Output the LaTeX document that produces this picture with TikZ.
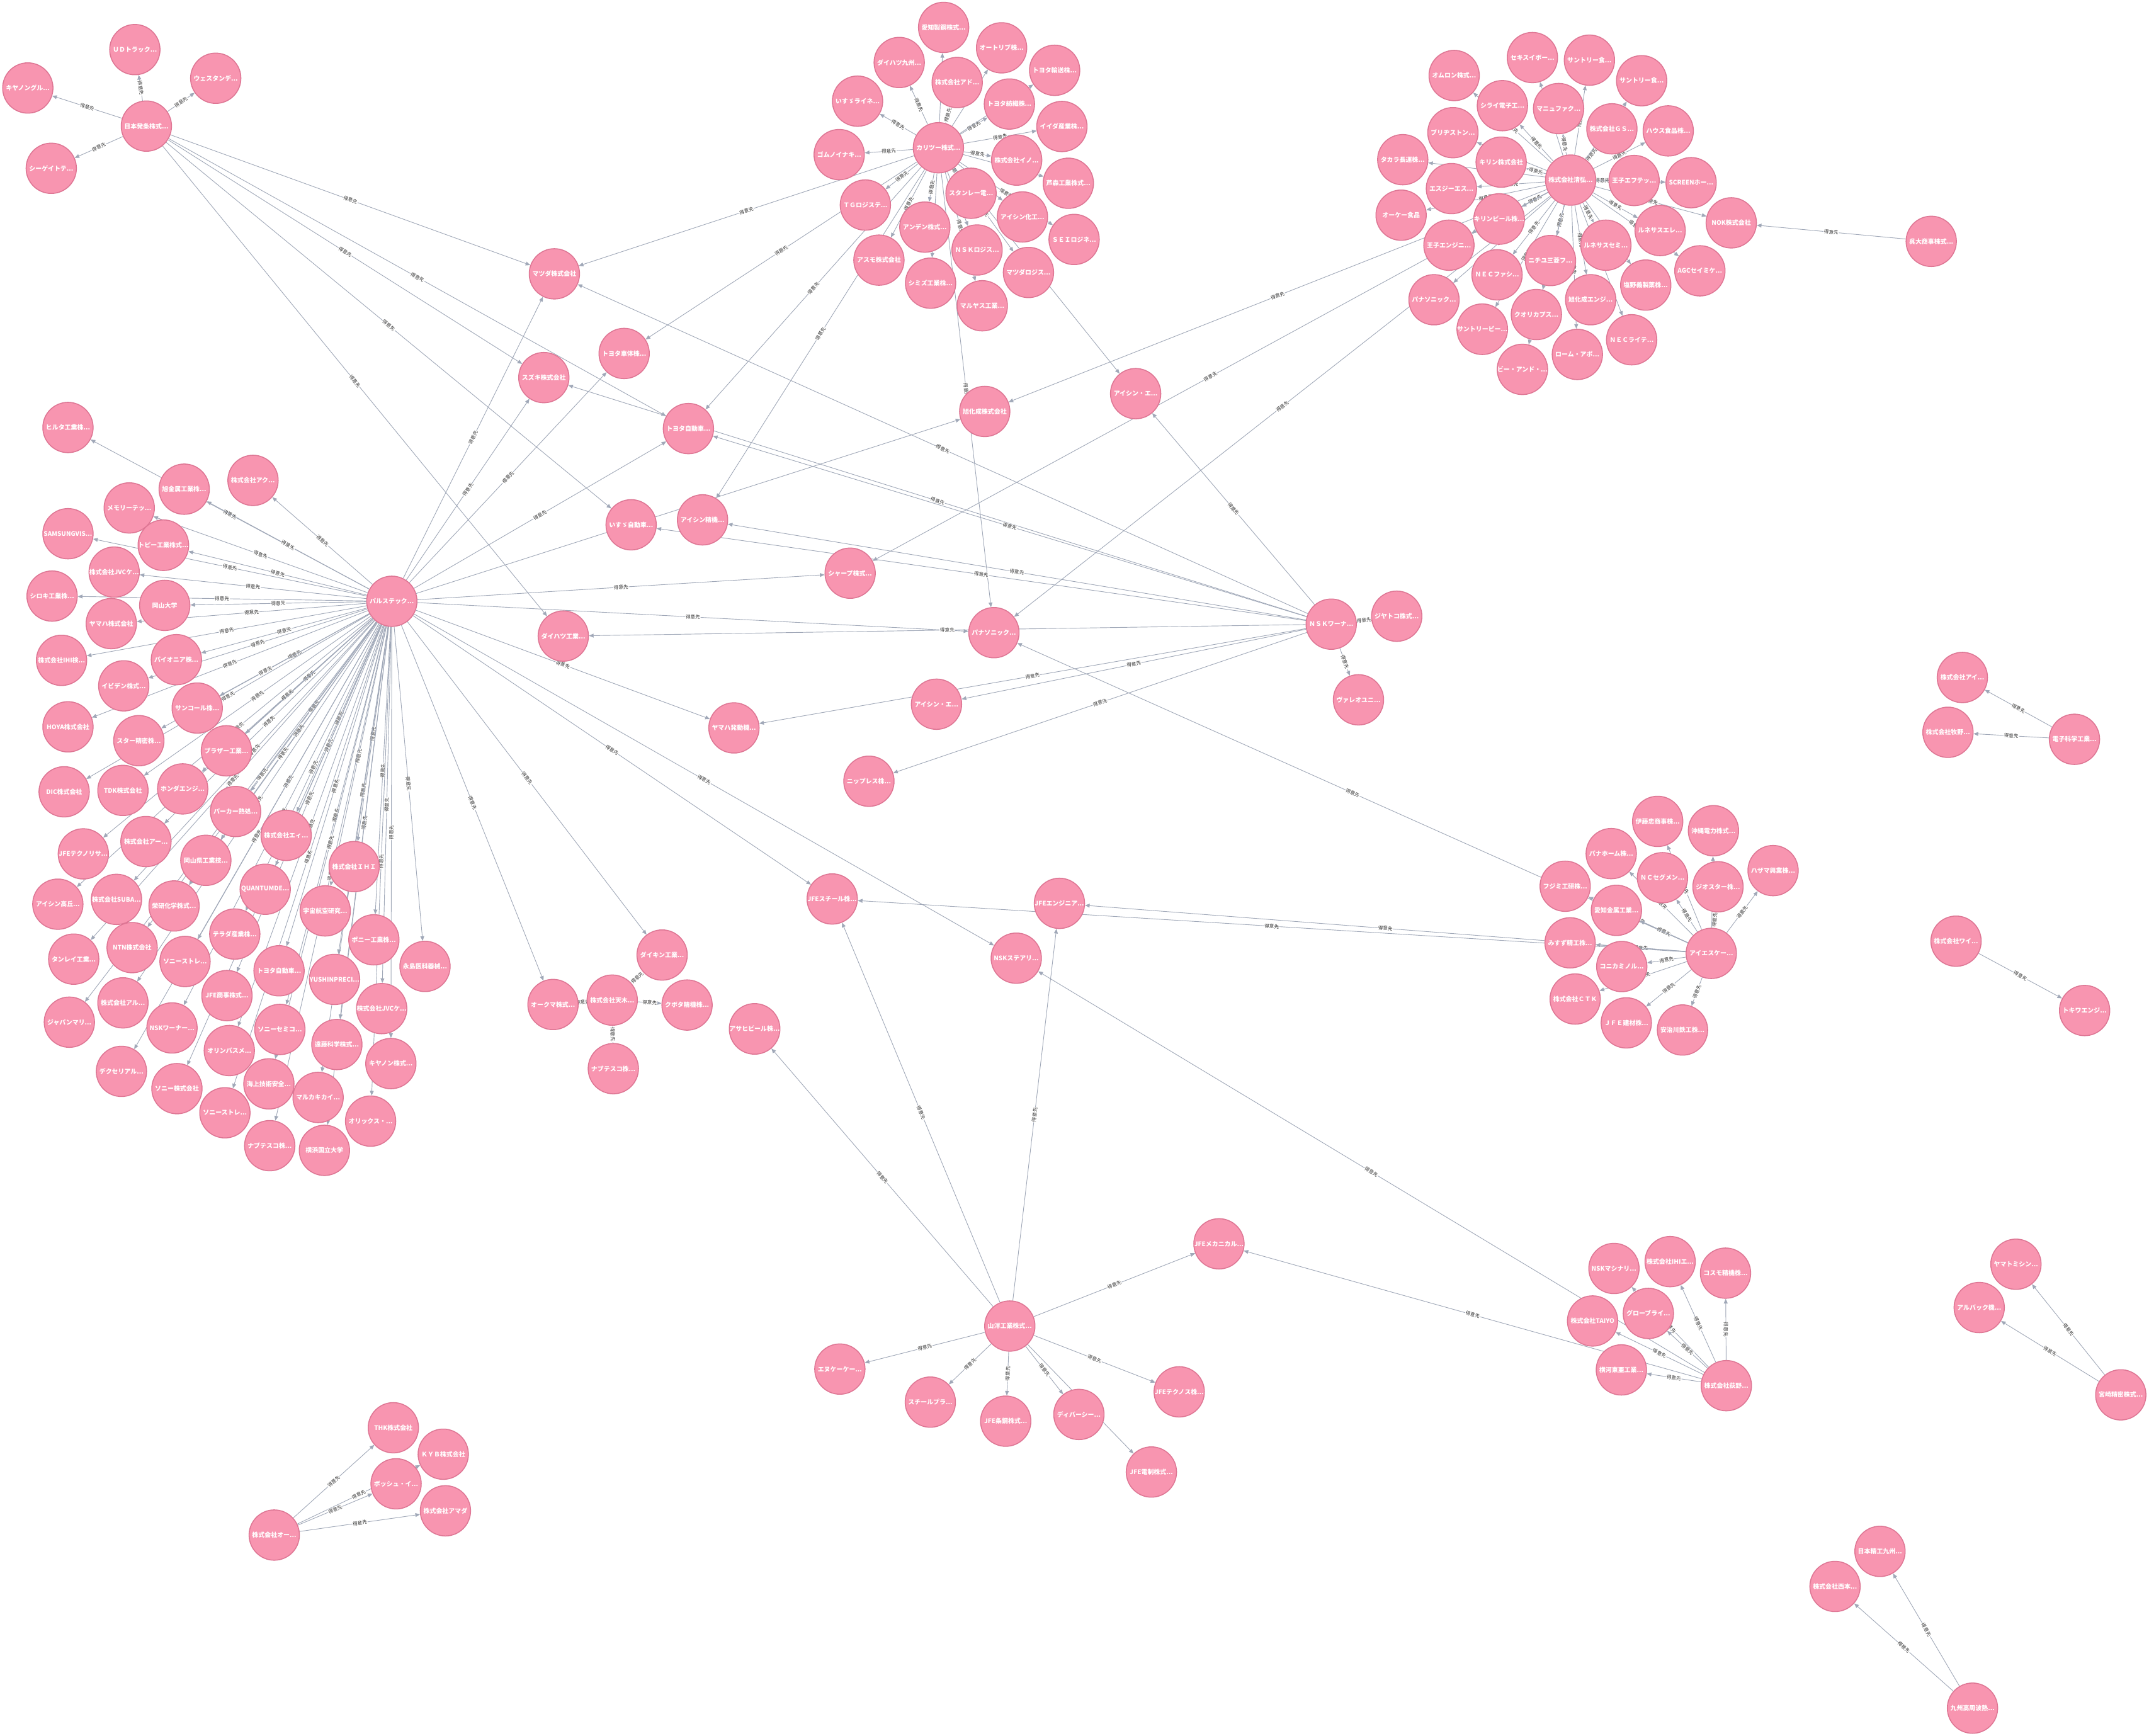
\documentclass[tikz,border=0pt]{standalone}
\usepackage{fontspec}
\setmainfont{Noto Sans CJK JP}
\usetikzlibrary{arrows.meta,backgrounds}
\definecolor{nodefill}{RGB}{248,149,176}
\definecolor{nodeedge}{RGB}{222,118,148}
\definecolor{edgec}{RGB}{160,168,184}
\definecolor{labc}{RGB}{51,51,51}
\tikzset{
 co/.style={circle, fill=nodefill, draw=nodeedge, line width=2pt, minimum size=3.67cm, inner sep=0pt, text=white, font=\fontsize{13}{15}\selectfont\bfseries},
 ed/.style={draw=edgec, line width=1.2pt, -{Triangle[length=0.34cm,width=0.28cm]}},
 lb/.style={sloped, midway, fill=white, inner sep=1pt, text=labc, font=\fontsize{10}{11}\selectfont},
}
\newcommand\mkn[4]{\node[co] (#1) at (#2,#3) {#4};}
\newcommand\mke[2]{\draw[ed] (#1) -- node[lb] {得意先} (#2);}
\newcommand\mku[2]{\draw[ed] (#1) -- (#2);}
\newcommand\fan[2]{\foreach \tg in {#2} {\mke{#1}{\tg}}}
\newcommand\fanu[2]{\foreach \tg in {#2} {\mku{#1}{\tg}}}
\begin{document}
\begin{tikzpicture}[x=0.1cm,y=-0.1cm]
\useasboundingbox (0,0) rectangle (1568,1266.6);
% cluster A
\mkn{a0}{106.8}{92.0}{日本発条株式...}
\mkn{a1}{98.4}{36.2}{ＵＤトラック...}
\mkn{a2}{157.4}{57.1}{ウェスタンデ...}
\mkn{a3}{20.3}{64.2}{キヤノングル...}
\mkn{a4}{37.4}{122.8}{シーゲイトテ...}
% cluster B
\mkn{b0}{684.7}{107.8}{カリツー株式...}
\mkn{b1}{688.5}{20.0}{愛知製鋼株式...}
\mkn{b2}{730.8}{34.9}{オートリブ株...}
\mkn{b3}{656.1}{45.6}{ダイハツ九州...}
\mkn{b4}{769.5}{51.3}{トヨタ輸送株...}
\mkn{b5}{698.4}{60.2}{株式会社アド...}
\mkn{b6}{625.7}{73.8}{いすゞライネ...}
\mkn{b7}{736.5}{75.9}{トヨタ紡織株...}
\mkn{b8}{774.8}{92.3}{イイダ産業株...}
\mkn{b9}{612.3}{112.8}{ゴムノイナキ...}
\mkn{b10}{741.8}{116.8}{株式会社イノ...}
\mkn{b11}{779.5}{133.7}{芦森工業株式...}
\mkn{b12}{708.5}{141.0}{スタンレー電...}
\mkn{b13}{631.4}{149.6}{ＴＧロジステ...}
\mkn{b14}{746.0}{158.3}{アイシン化工...}
\mkn{b15}{674.8}{165.7}{アンデン株式...}
\mkn{b16}{783.7}{174.7}{ＳＥＩロジネ...}
\mkn{b17}{712.9}{182.4}{ＮＳＫロジス...}
\mkn{b18}{641.3}{189.8}{アスモ株式会社}
\mkn{b19}{750.4}{198.8}{マツダロジス...}
\mkn{b20}{679.0}{206.6}{シミズ工業株...}
\mkn{b21}{716.7}{223.1}{マルヤス工業...}
% middle
\mkn{m1}{404.5}{199.8}{マツダ株式会社}
\mkn{m2}{396.8}{275.5}{スズキ株式会社}
\mkn{m3}{455.4}{257.9}{トヨタ車体株...}
\mkn{m4}{502.3}{312.7}{トヨタ自動車...}
\mkn{m5}{460.5}{382.9}{いすゞ自動車...}
\mkn{m6}{512.6}{379.3}{アイシン精機...}
\mkn{m7}{620.3}{418.2}{シャープ株式...}
\mkn{m8}{411.0}{464.1}{ダイハツ工業...}
\mkn{m9}{535.5}{531.1}{ヤマハ発動機...}
\mkn{m10}{683.3}{513.8}{アイシン・エ...}
\mkn{m11}{718.5}{300.2}{旭化成株式会社}
\mkn{m12}{828.6}{287.2}{アイシン・エ...}
\mkn{m13}{725.2}{461.6}{パナソニック...}
\mkn{m14}{971.3}{455.4}{ＮＳＫワーナ...}
\mkn{m15}{1019.1}{449.6}{ジヤトコ株式...}
\mkn{m16}{991.2}{510.6}{ヴァレオユニ...}
\mkn{m17}{634.0}{570.0}{ニップレス株...}
% cluster C
\mkn{c0}{1146.0}{131.4}{株式会社清弘...}
\mkn{c1}{1118.1}{42.0}{セキスイボー...}
\mkn{c2}{1159.7}{43.9}{サントリー食...}
\mkn{c3}{1061.0}{55.1}{オムロン株式...}
\mkn{c4}{1197.8}{58.9}{サントリー食...}
\mkn{c5}{1096.2}{77.1}{シライ電子工...}
\mkn{c6}{1137.2}{79.2}{マニュファク...}
\mkn{c7}{1060.1}{96.8}{ブリヂストン...}
\mkn{c8}{1176.1}{94.0}{株式会社ＧＳ...}
\mkn{c9}{1217.2}{95.5}{ハウス食品株...}
\mkn{c10}{1023.5}{116.5}{タカラ長運株...}
\mkn{c11}{1095.3}{118.3}{キリン株式会社}
\mkn{c12}{1192.3}{131.7}{王子エフテッ...}
\mkn{c13}{1233.9}{133.3}{SCREENホー...}
\mkn{c14}{1059.0}{137.6}{エスジーエス...}
\mkn{c15}{1022.3}{157.0}{オーケー食品}
\mkn{c16}{1093.8}{159.8}{キリンビール株...}
\mkn{c17}{1263.2}{162.6}{NOK株式会社}
\mkn{c18}{1409.1}{176.1}{呉大商事株式...}
\mkn{c19}{1211.3}{168.2}{ルネサスエレ...}
\mkn{c20}{1057.2}{178.9}{王子エンジニ...}
\mkn{c21}{1171.7}{178.9}{ルネサスセミ...}
\mkn{c22}{1131.3}{190.1}{ニチユ三菱フ...}
\mkn{c23}{1092.3}{200.5}{ＮＥＣファシ...}
\mkn{c24}{1240.3}{197.6}{AGCセイミケ...}
\mkn{c25}{1200.8}{208.0}{塩野義製薬株...}
\mkn{c26}{1046.3}{218.7}{パナソニック...}
\mkn{c27}{1160.6}{218.7}{旭化成エンジ...}
\mkn{c28}{1121.0}{229.5}{クオリカプス...}
\mkn{c29}{1081.5}{240.2}{サントリービー...}
\mkn{c30}{1190.5}{247.9}{ＮＥＣライテ...}
\mkn{c31}{1150.9}{258.6}{ローム・アポ...}
\mkn{c32}{1110.8}{269.5}{ビー・アンド・...}
% cluster D
\mkn{d0}{285.9}{438.7}{パルステック...}
\mkn{d1}{49.6}{311.9}{ヒルタ工業株...}
\mkn{d2}{184.6}{350.5}{株式会社アク...}
\mkn{d3}{134.4}{356.9}{旭金属工業株...}
\mkn{d4}{94.3}{370.6}{メモリーテッ...}
\mkn{d5}{49.6}{389.4}{SAMSUNGVIS...}
\mkn{d6}{119.2}{397.8}{トピー工業株式...}
\mkn{d7}{83.3}{417.4}{株式会社JVCケ...}
\mkn{d8}{38.0}{434.9}{シロキ工業株...}
\mkn{d9}{120.2}{441.7}{岡山大学}
\mkn{d10}{81.2}{455.0}{ヤマハ株式会社}
\mkn{d11}{44.9}{481.8}{株式会社IHI検...}
\mkn{d12}{128.7}{481.3}{パイオニア株...}
\mkn{d13}{90.3}{500.4}{イビデン株式...}
\mkn{d14}{143.9}{516.6}{サンコール株...}
\mkn{d15}{49.6}{530.3}{HOYA株式会社}
\mkn{d16}{101.3}{540.4}{スター精密株...}
\mkn{d17}{165.2}{547.8}{ブラザー工業...}
\mkn{d18}{46.8}{577.7}{DIC株式会社}
\mkn{d19}{89.7}{576.7}{TDK株式会社}
\mkn{d20}{133.3}{575.6}{ホンダエンジ...}
\mkn{d21}{171.9}{592.1}{パーカー熱処...}
\mkn{d22}{208.8}{609.5}{株式会社エィ...}
\mkn{d23}{60.8}{623.0}{JFEテクノリサ...}
\mkn{d24}{106.5}{614.0}{株式会社アー...}
\mkn{d25}{150.2}{627.7}{岡山県工業技...}
\mkn{d26}{42.2}{659.7}{アイシン高丘...}
\mkn{d27}{85.0}{656.2}{株式会社SUBA...}
\mkn{d28}{127.0}{661.0}{栄研化学株式...}
\mkn{d29}{193.5}{648.8}{QUANTUMDE...}
\mkn{d30}{258.4}{632.3}{株式会社ＩＨＩ}
\mkn{d31}{237.3}{664.6}{宇宙航空研究...}
\mkn{d32}{53.8}{699.8}{タンレイ工業...}
\mkn{d33}{96.4}{691.4}{NTN株式会社}
\mkn{d34}{135.0}{701.5}{ソニーストレ...}
\mkn{d35}{171.3}{681.5}{テラダ産業株...}
\mkn{d36}{272.8}{685.7}{ポニー工業株...}
\mkn{d37}{310.1}{705.1}{永島医科器械...}
\mkn{d38}{203.6}{708.3}{トヨタ自動車...}
\mkn{d39}{244.1}{714.6}{YUSHINPRECI...}
\mkn{d40}{50.6}{745.8}{ジャパンマリ...}
\mkn{d41}{89.7}{731.7}{株式会社アル...}
\mkn{d42}{165.6}{726.4}{JFE商事株式...}
\mkn{d43}{278.5}{735.9}{株式会社JVCケ...}
\mkn{d44}{125.5}{750.0}{NSKワーナー...}
\mkn{d45}{204.2}{751.1}{ソニーセミコ...}
\mkn{d46}{245.8}{762.1}{遠藤科学株式...}
\mkn{d47}{167.3}{766.5}{オリンパスメ...}
\mkn{d48}{88.6}{781.7}{デクセリアル...}
\mkn{d49}{285.2}{776.0}{キヤノン株式...}
\mkn{d50}{196.2}{790.8}{海上技術安全...}
\mkn{d51}{129.1}{794.3}{ソニー株式会社}
\mkn{d52}{232.1}{800.7}{マルカキカイ...}
\mkn{d53}{164.1}{811.9}{ソニーストレ...}
\mkn{d54}{270.4}{818.0}{オリックス・...}
\mkn{d55}{196.8}{835.9}{ナブテスコ株...}
\mkn{d56}{236.7}{839.3}{横浜国立大学}
% cluster E
\mkn{e0}{1248.6}{695.6}{アイエスケー...}
\mkn{e1}{1209.5}{599.3}{伊藤忠商事株...}
\mkn{e2}{1250.2}{606.1}{沖縄電力株式...}
\mkn{e3}{1175.6}{622.8}{パナホーム株...}
\mkn{e4}{1293.7}{635.2}{ハザマ興業株...}
\mkn{e5}{1142.0}{646.6}{フジミ工研株...}
\mkn{e6}{1213.0}{640.4}{ＮＣセグメン...}
\mkn{e7}{1253.5}{647.0}{ジオスター株...}
\mkn{e8}{1179.4}{664.2}{愛知金属工業...}
\mkn{e9}{1145.6}{687.9}{みすず精工株...}
\mkn{e10}{1183.3}{705.2}{コニカミノル...}
\mkn{e11}{1149.3}{728.9}{株式会社ＣＴＫ}
\mkn{e12}{1186.6}{746.3}{ＪＦＥ建材株...}
\mkn{e13}{1227.6}{751.5}{安治川鉄工株...}
% cluster F
\mkn{f0}{736.8}{967.5}{山洋工業株式...}
\mkn{f1}{607.2}{655.9}{JFEスチール株...}
\mkn{f2}{773.0}{659.1}{JFEエンジニア...}
\mkn{f3}{741.5}{699.1}{NSKステアリ...}
\mkn{f4}{550.6}{750.7}{アサヒビール株...}
\mkn{f5}{889.4}{907.5}{JFEメカニカル...}
\mkn{f6}{612.8}{998.9}{エヌケーケー...}
\mkn{f7}{678.8}{1023.0}{スチールプラ...}
\mkn{f8}{733.8}{1036.9}{JFE条鋼株式...}
\mkn{f9}{787.2}{1032.0}{ディバーシー...}
\mkn{f10}{860.4}{1015.5}{JFEテクノス株...}
\mkn{f11}{840.1}{1074.0}{JFE電制株式...}
% cluster G
\mkn{g0}{446.7}{729.7}{株式会社天木...}
\mkn{g1}{483.1}{696.8}{ダイキン工業...}
\mkn{g2}{403.5}{732.9}{オークマ株式...}
\mkn{g3}{501.3}{733.3}{クボタ精機株...}
\mkn{g4}{447.5}{779.7}{ナブテスコ株...}
% cluster H
\mkn{h0}{1259.6}{1011.0}{株式会社荻野...}
\mkn{h1}{1177.6}{925.5}{NSKマシナリ...}
\mkn{h2}{1218.6}{920.5}{株式会社IHIエ...}
\mkn{h3}{1259.0}{928.9}{コスモ精機株...}
\mkn{h4}{1162.0}{963.8}{株式会社TAIYO}
\mkn{h5}{1202.7}{958.3}{グローブライ...}
\mkn{h6}{1183.0}{999.5}{横河東亜工業...}
% cluster I
\mkn{i0}{200.1}{1120.0}{株式会社オー...}
\mkn{i1}{287.0}{1041.7}{THK株式会社}
\mkn{i2}{323.4}{1061.0}{ＫＹＢ株式会社}
\mkn{i3}{289.0}{1082.6}{ボッシュ・イ...}
\mkn{i4}{325.0}{1102.3}{株式会社アマダ}
% small clusters
\mkn{j0}{1513.6}{539.4}{電子科学工業...}
\mkn{j1}{1431.8}{494.3}{株式会社アイ...}
\mkn{j2}{1421.3}{534.3}{株式会社牧野...}
\mkn{k0}{1427.2}{686.7}{株式会社ワイ...}
\mkn{k1}{1521.0}{737.3}{トキワエンジ...}
\mkn{l0}{1547.4}{1017.7}{宮崎精密株式...}
\mkn{l1}{1470.9}{922.4}{ヤマトミシン...}
\mkn{l2}{1444.1}{954.0}{アルバック機...}
\mkn{q0}{1439.2}{1246.3}{九州高周波熱...}
\mkn{q1}{1371.7}{1131.9}{日本精工九州...}
\mkn{q2}{1338.9}{1157.5}{株式会社西本...}
\begin{pgfonlayer}{background}
\fill[white] (0,0) rectangle (1568,1266.6);
\fan{a0}{a1,a2,a3,a4,m1,m2,m4,m5,m8}
\fan{b0}{b2,b3,b5,b6,b7,b8,b9,b10,b12,b13,b15,b16,b18,b19,b20,b21}
\fanu{b0}{b1,b4,b11,b14,b17,m12}
\fan{b0}{m1,m3,m4,m6,m13}
\fan{c0}{c2,c3,c5,c6,c8,c9,c11,c12,c14,c15,c16,c17,c19,c21,c22,c23,c24,c25,c26,c27,c28,c29,c30,c31,c32}
\fanu{c0}{c1,c4,c7,c10,c13,c20}
\mke{c18}{c17}
\fan{c0}{m11,m7,m13}
\foreach \i in {1,...,25,27,28,...,39,41,42,...,50,52,53,54,55} {\mke{d0}{d\i}}
\fanu{d0}{d26,d40,d51,d56}
\fan{d0}{m1,m2,m3,m4,m11,m7,m13,m9,f1,f3,g1,g2}
\fan{m14}{m1,m2,m4,m6,m5,m8,m9,m10,m17,m12,m15,m16}
\fan{e0}{e1,e3,e4,e5,e6,e7,e8,e9,e10,e11,e12,e13}
\mku{e0}{e2}
\fan{e0}{m13,f1,f2}
\fan{f0}{f1,f2,f4,f5,f6,f7,f8,f9,f10,f11}
\fan{h0}{h1,h2,h3,h4,h5,h6,f3,f5}
\fan{g0}{g1,g2,g3,g4}
\fan{i0}{i1,i2,i3,i4}
\fan{j0}{j1,j2}
\mke{k0}{k1}
\fan{l0}{l1,l2}
\fan{q0}{q1,q2}
\end{pgfonlayer}
\end{tikzpicture}
\end{document}
